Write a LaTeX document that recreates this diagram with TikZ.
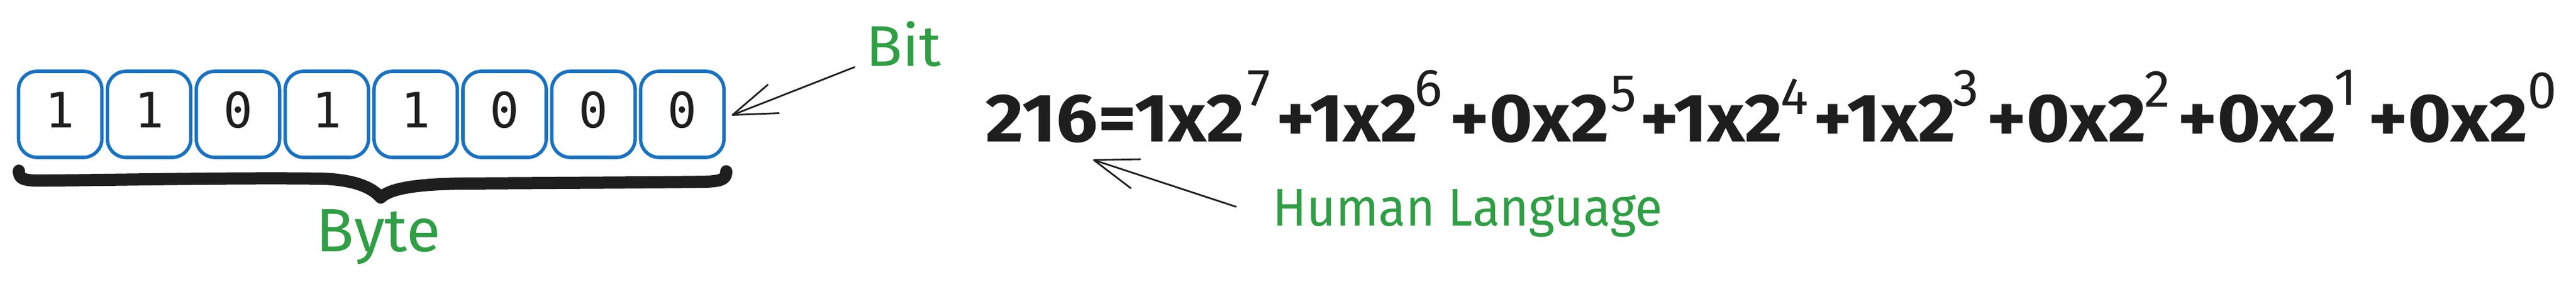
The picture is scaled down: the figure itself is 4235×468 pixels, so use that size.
\documentclass[tikz,border=0pt]{standalone}
\usepackage{graphicx}
\usepackage{fontspec}
\setmainfont{Fira Sans}
\newfontfamily\monofont{DejaVu Sans Mono}
\usetikzlibrary{arrows.meta}
\definecolor{exblue}{HTML}{1971C2}
\definecolor{exgreen}{HTML}{2F9E44}
\definecolor{exink}{HTML}{1E1E1E}
\newcommand\fitw[2]{\resizebox{#1}{\height}{#2}}
\begin{document}
\begin{tikzpicture}[x=0.5pt,y=-0.5pt,
  bitbox/.style={draw=exblue, line width=2.8pt, rounded corners=15pt,
    minimum width=68.5pt, minimum height=70.5pt, inner sep=0pt,
    text height=29pt, text depth=7pt, text=exink,
    font=\monofont\fontsize{40}{40}\selectfont},
  greenlabel/.style={text=exgreen, inner sep=0pt, anchor=base west},
  eqpart/.style={text=exink, inner sep=0pt, anchor=base west,
    font=\bfseries\fontsize{56}{56}\selectfont},
  eqsup/.style={text=exink, inner sep=0pt, anchor=base west,
    font=\fontsize{43}{43}\selectfont},
  pointer/.style={draw=exink, line width=1.4pt, line cap=round,
    -{Straight Barb[length=36pt,width=25pt,round]}},
  bracestroke/.style={draw=exink, line width=10pt, line cap=round, line join=round}
]
\useasboundingbox (0,0) rectangle (4235,468);

% byte boxes
\node[bitbox] (b0) at (99.0,187.5) {1};
\node[bitbox] (b1) at (245.1,187.5) {1};
\node[bitbox] (b2) at (391.2,187.5) {0};
\node[bitbox] (b3) at (537.3,187.5) {1};
\node[bitbox] (b4) at (683.4,187.5) {1};
\node[bitbox] (b5) at (829.5,187.5) {0};
\node[bitbox] (b6) at (975.6,187.5) {0};
\node[bitbox] (b7) at (1121.7,187.5) {0};

% brace
\draw[bracestroke] (31,280) .. controls (31,294) and (38,297) .. (80,296)
  .. controls (200,295) and (400,291) .. (530,293)
  .. controls (585,295) and (612,308) .. (626,324)
  .. controls (640,310) and (680,302) .. (760,301)
  .. controls (900,300) and (1100,299) .. (1160,298)
  .. controls (1188,297) and (1194,293) .. (1194,281);

% labels
\node[greenlabel, font=\fontsize{47}{47}\selectfont] (bit) at (1423,108) {\fitw{62pt}{Bit}};
\node[greenlabel, font=\fontsize{50}{50}\selectfont] (byte) at (519,412) {\fitw{102.5pt}{Byte}};
\node[greenlabel, font=\fontsize{43.5}{43.5}\selectfont] (human) at (2092,370) {\fitw{320.5pt}{Human Language}};

% equation
\node[eqpart] (e1) at (1620,232) {\fitw{213pt}{216=1x2}};
\node[eqsup] (s1) at (2050,173) {7};
\node[eqpart] (e2) at (2098,232) {\fitw{116.5pt}{+1x2}};
\node[eqsup] (s2) at (2325,173) {6};
\node[eqpart] (e3) at (2383,232) {\fitw{131pt}{+0x2}};
\node[eqsup] (s3) at (2647,182) {5};
\node[eqpart] (e4) at (2696,232) {\fitw{117pt}{+1x2}};
\node[eqsup] (s4) at (2927,187) {4};
\node[eqpart] (e5) at (2981,232) {\fitw{117pt}{+1x2}};
\node[eqsup] (s5) at (3210,173) {3};
\node[eqpart] (e6) at (3266,232) {\fitw{131pt}{+0x2}};
\node[eqsup] (s6) at (3525,175) {2};
\node[eqpart] (e7) at (3580,232) {\fitw{130.5pt}{+0x2}};
\node[eqsup] (s7) at (3837,172) {1};
\node[eqpart] (e8) at (3893,232) {\fitw{131.5pt}{+0x2}};
\node[eqsup] (s8) at (4155,177) {0};

% pointers
\coordinate (bitfrom) at (1405,110);
\coordinate (bitto) at (1203,189);
\draw[pointer] (bitfrom) -- (bitto);
\coordinate (humanfrom) at (2032,339);
\coordinate (humanto) at (1797,262);
\draw[pointer] (humanfrom) -- (humanto);
\end{tikzpicture}
\end{document}
